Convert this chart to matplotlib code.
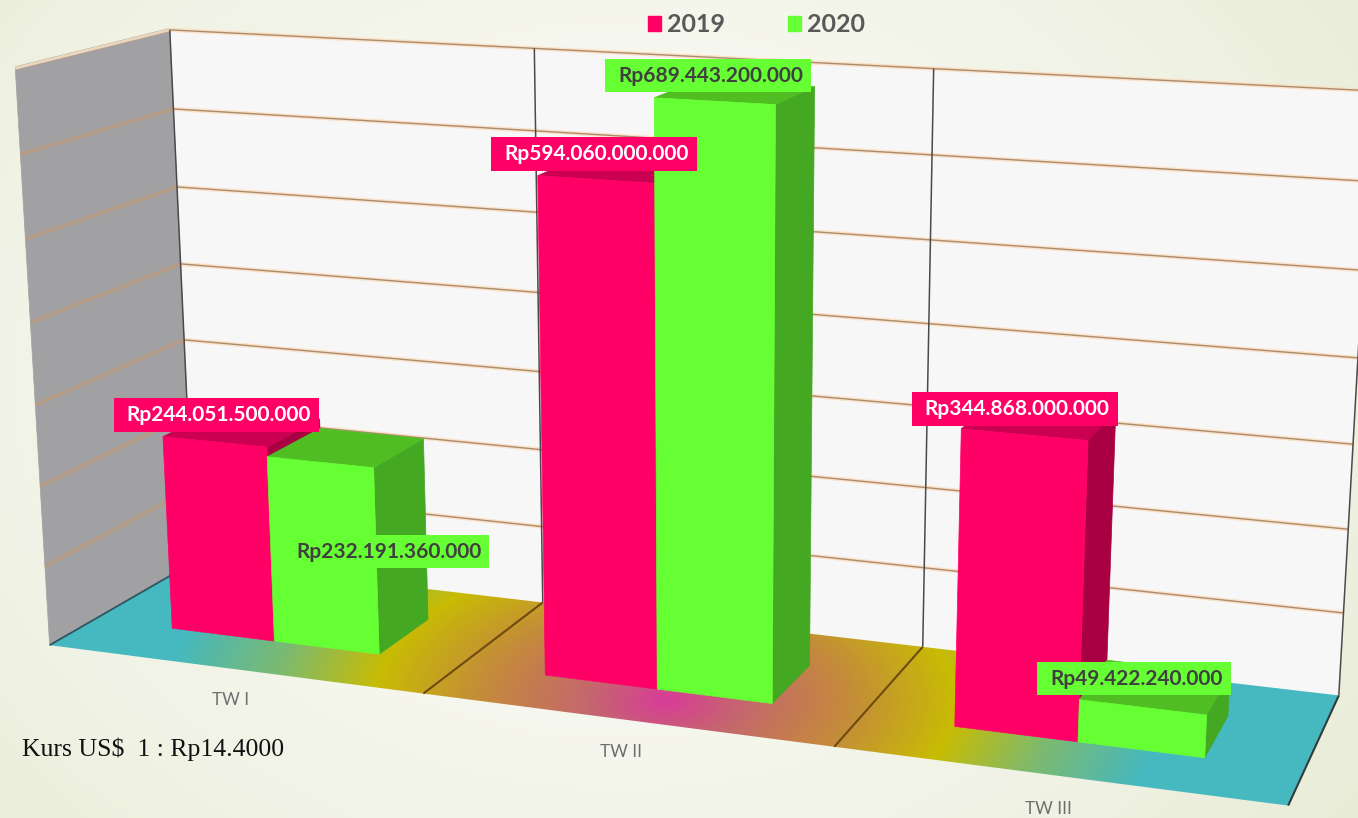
import numpy as np
import matplotlib
matplotlib.use("Agg")
import matplotlib.pyplot as plt
from matplotlib.colors import LinearSegmentedColormap
from matplotlib.patches import Patch, Polygon, Rectangle

categories = ["TW I", "TW II", "TW III"]
series_names = ["2019", "2020"]
values_2019 = [244051500000, 594060000000, 344868000000]
values_2020 = [232191360000, 689443200000, 49422240000]
labels_2019 = ["Rp244.051.500.000", "Rp594.060.000.000", "Rp344.868.000.000"]
labels_2020 = ["Rp232.191.360.000", "Rp689.443.200.000", "Rp49.422.240.000"]
axis_ticks = [0, 100, 200, 300, 400, 500, 600, 700]  # miliar, axis labels are hidden in the picture

W, H = 1358, 818
RED, RED_TOP, RED_SIDE = "#ff0066", "#cc0052", "#a80042"
GREEN, GREEN_TOP, GREEN_SIDE = "#66ff33", "#50bd22", "#44a822"

# camera: where the corners of the chart box land on the canvas
# (category, depth, value in 100 miliar) -> pixel
corners = [
    ((0, 1, 0), (194, 562)), ((0, 1, 7), (170, 30)),
    ((3, 1, 0), (1339, 695)), ((3, 1, 7), (1373, 91)),
    ((0, 0, 0), (50, 645)), ((0, 0, 7), (15, 68)),
    ((3, 0, 0), (1288, 806)),
]
rows = []
for (a, b, c), (px, py) in corners:
    px, py = px / 1000, py / 1000
    rows.append([a, b, c, 1, 0, 0, 0, 0, -px * a, -px * b, -px * c, -px])
    rows.append([0, 0, 0, 0, a, b, c, 1, -py * a, -py * b, -py * c, -py])
cam = np.linalg.svd(np.array(rows, dtype=float))[2][-1].reshape(3, 4)


def project(u, d, z):
    p = cam @ np.array([u, d, z, 1.0])
    return p[0] / p[2] * 1000, p[1] / p[2] * 1000


def face(ax, pts, color, zorder=3, **kw):
    ax.add_patch(Polygon([project(*p) for p in pts], closed=True, facecolor=color,
                         edgecolor=color, linewidth=0.5, zorder=zorder, **kw))


def line3(ax, a, b, color, lw, zorder=2, alpha=1.0):
    pa, pb = project(*a), project(*b)
    ax.plot([pa[0], pb[0]], [pa[1], pb[1]], color=color, lw=lw, zorder=zorder, alpha=alpha,
            solid_capstyle="butt")


def data_label(ax, x, y, text, color, box_color, box_h):
    # box is a little wider on the left of the text, as in the source
    t = ax.text(x, y, text, color=color, family="Lato", weight="bold", fontsize=15.0,
                ha="center", va="center", zorder=11)
    tw = t.get_window_extent(fig.canvas.get_renderer()).width
    t.set_x(x + 3)
    ax.add_patch(Rectangle((x + 3 - tw / 2 - 13, y - box_h / 2), tw + 13 + 8, box_h,
                           facecolor=box_color, edgecolor="none", zorder=10))


fig = plt.figure(figsize=(W / 100, H / 100), dpi=100)
ax = fig.add_axes([0, 0, 1, 1])

# slide background
yy, xx = np.mgrid[0:H, 0:W]
r = np.sqrt(((xx - 620) / 1000) ** 2 + ((yy - 380) / 800) ** 2)
bg_cmap = LinearSegmentedColormap.from_list("bg", ["#fdfdfa", "#f8f8f1", "#f0f2e4", "#e6ead2"])
ax.imshow(np.clip(r, 0, 1), extent=(0, W, H, 0), cmap=bg_cmap, vmin=0, vmax=1, aspect="auto", zorder=0)

# walls
back = [(0, 1, 0), (3, 1, 0), (3, 1, 7), (0, 1, 7)]
left = [(0, 0, 0), (0, 1, 0), (0, 1, 7), (0, 0, 7)]
face(ax, back, "#f7f7f8", zorder=1)
face(ax, left, "#a1a1a3", zorder=1)

# floor with its gradient
floor_cmap = LinearSegmentedColormap.from_list("floor", [
    (0.0, "#d83c98"), (0.16, "#c4686c"), (0.36, "#c48a3c"), (0.58, "#c8bc04"),
    (0.78, "#7cba70"), (1.0, "#45b8c0")])
t = np.sqrt(((xx - 665) / 500) ** 2 + ((yy - 700) / 260) ** 2)
floor_img = ax.imshow(np.clip(t, 0, 1), extent=(0, W, H, 0), cmap=floor_cmap, vmin=0, vmax=1,
                      aspect="auto", zorder=1.5)
floor_poly = Polygon([project(0, 0, 0), project(3, 0, 0), project(3, 1, 0), project(0, 1, 0)],
                     closed=True, transform=ax.transData, facecolor="none", edgecolor="none")
ax.add_patch(floor_poly)
floor_img.set_clip_path(floor_poly)

# grid lines
for tick in axis_ticks[1:]:
    z = tick / 100
    line3(ax, (0, 1, z), (3, 1, z), "#fbdcbc", 3.0, alpha=0.8)
    line3(ax, (0, 1, z), (3, 1, z), "#ac8c6e", 1.0)
    line3(ax, (0, 0, z), (0, 1, z), "#b89a80", 2.6, alpha=0.85)
line3(ax, (0, 0, 7), (0, 1, 7), "#f8e4cc", 2.0, alpha=0.8)

# category separators
for u in range(4):
    line3(ax, (u, 1, 0), (u, 1, 7), "#4a4a4a", 1.1)
for u in [1, 2]:
    line3(ax, (u, 0, 0), (u, 1, 0), "#6e4a10", 1.5)
line3(ax, (0, 0, 0), (0, 1, 0), "#2f5560", 1.3)
line3(ax, (3, 0, 0), (3, 1, 0), "#303c3c", 1.5)

# bars
bar_w = 0.283
d0, d1 = 0.30, 0.69
anchors = []
for i in range(len(categories)):
    for j, (vals, front, top, side) in enumerate([(values_2019, RED, RED_TOP, RED_SIDE),
                                                  (values_2020, GREEN, GREEN_TOP, GREEN_SIDE)]):
        z = vals[i] / 100e9
        u0 = i + 0.5 - bar_w + j * bar_w
        u1 = u0 + bar_w
        zo = 3 + i + j * 0.1
        face(ax, [(u1, d0, 0), (u1, d1, 0), (u1, d1, z), (u1, d0, z)], side, zorder=zo)
        face(ax, [(u0, d0, z), (u1, d0, z), (u1, d1, z), (u0, d1, z)], top, zorder=zo)
        face(ax, [(u0, d0, 0), (u1, d0, 0), (u1, d0, z), (u0, d0, z)], front, zorder=zo)
        anchors.append(project((u0 + u1) / 2, d0, z))

# data labels, nudged off the bar top like the manual placement in the source
offsets_2019 = [(1.5, -27), (-2.5, -25), (-10, -26)]
offsets_2020 = [(65.5, 89.5), (-7, -25.5), (-9, -28.5)]
for i in range(len(categories)):
    x, y = anchors[i * 2]
    data_label(ax, x + offsets_2019[i][0], y + offsets_2019[i][1], labels_2019[i], "white", RED, 34)
    x, y = anchors[i * 2 + 1]
    data_label(ax, x + offsets_2020[i][0], y + offsets_2020[i][1], labels_2020[i], "#404040", GREEN, 33)

# category labels
cat_off = [(-2, 31), (-3, 32), (-7, 34)]
for i, name in enumerate(categories):
    x, y = project(i + 0.5, 0, 0)
    ax.text(x + cat_off[i][0], y + cat_off[i][1], name, color="#6e6e6e", family="Lato",
            fontsize=12.3, ha="center", va="center", zorder=10)

ax.text(22, 749, "Kurs US$  1 : Rp14.4000", color="#111111", family="Liberation Serif",
        fontsize=18.5, ha="left", va="center", zorder=10)

ax.legend(handles=[Patch(color=RED, label=series_names[0]), Patch(color=GREEN, label=series_names[1])],
          loc="center", bbox_to_anchor=(756.5, 25), bbox_transform=ax.transData, ncol=2, frameon=False,
          prop={"family": "Lato", "weight": "bold", "size": 18}, labelcolor="#595959",
          handlelength=0.54, handleheight=0.54, handletextpad=0.25, columnspacing=2.5)

ax.set_xlim(0, W)
ax.set_ylim(H, 0)
ax.axis("off")
fig.savefig("out.png", dpi=100)
